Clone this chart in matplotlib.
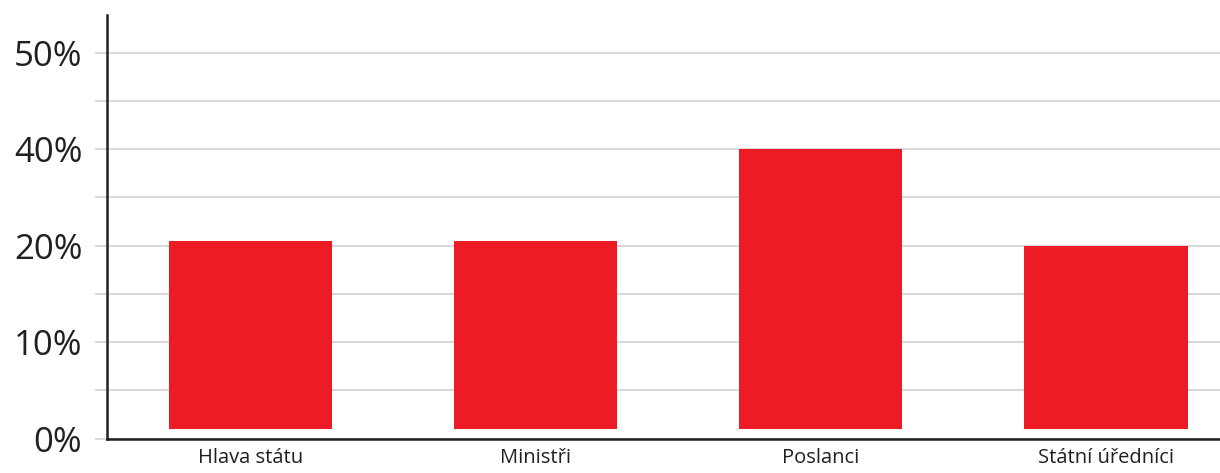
import numpy as np
import matplotlib.pyplot as plt

# data
categories = ["Hlava státu", "Ministři", "Poslanci", "Státní úředníci"]
values = [20.9, 20.9, 40.0, 20.0]
bar_base = 1.0

# the original axis places its labels evenly although the steps are uneven
tick_values = [0, 10, 20, 40, 50]
tick_labels = ["0%", "10%", "20%", "40%", "50%"]
minor_values = [5, 15, 30, 45]

# piecewise mapping of value -> even position
val_pts = [0, 10, 20, 40, 50, 60]
pos_pts = [0, 1, 2, 3, 4, 5]


def forward(v):
    return np.interp(v, val_pts, pos_pts)


def inverse(p):
    return np.interp(p, pos_pts, val_pts)


plt.rcParams['font.family'] = ['Open Sans', 'DejaVu Sans']

fig = plt.figure(figsize=(12.2, 4.73), dpi=100)
ax = fig.add_axes([0.0875, 0.0725, 0.9125, 0.8955])
ax.set_yscale('function', functions=(forward, inverse))

x = np.arange(len(categories))
heights = [v - bar_base for v in values]
ax.bar(x, heights, bottom=bar_base, width=0.572, color='#ed1c24', zorder=3)

ax.set_xlim(-0.505, 3.40)
ax.set_ylim(0, 53.9)

ax.set_yticks(tick_values)
ax.set_yticklabels(tick_labels)
ax.set_yticks(minor_values, minor=True)
ax.yaxis.grid(True, which='both', color='#d9d9d9', linewidth=1.5, zorder=0)
ax.tick_params(axis='y', which='both', length=8.6, width=1.5, color='#d9d9d9',
               pad=9, labelsize=25, labelcolor='#231f20')
ax.tick_params(axis='y', which='minor', labelleft=False)

ax.set_xticks(x)
ax.set_xticklabels(categories)
ax.tick_params(axis='x', length=0, pad=7, labelsize=14.5, labelcolor='#231f20')

for side in ['top', 'right']:
    ax.spines[side].set_visible(False)
for side in ['left', 'bottom']:
    ax.spines[side].set_color('#231f20')
    ax.spines[side].set_linewidth(1.8)
    ax.spines[side].set_zorder(4)

plt.savefig("out.png", dpi=100)
